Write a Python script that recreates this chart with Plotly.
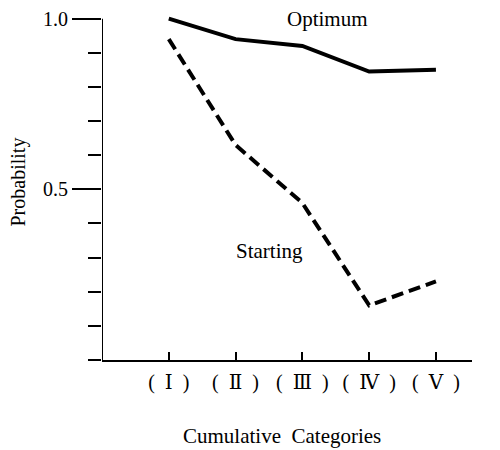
import plotly.graph_objects as go

# Category positions and labels along the horizontal axis
categories = [1, 2, 3, 4, 5]
category_labels = ["(\u2002\u2160\u2002)", "(\u2002\u2161\u2002)", "(\u2002\u2162\u2002)",
                   "(\u2002\u2163\u2002)", "(\u2002\u2164\u2002)"]

# Probability for each cumulative category
optimum = [1.0, 0.94, 0.92, 0.845, 0.85]
starting = [0.94, 0.63, 0.46, 0.16, 0.23]

y_tick_vals = [0.5, 1.0]
y_tick_text = ["0.5", "1.0"]

serif = "Liberation Serif, DejaVu Serif, Times New Roman, serif"

fig = go.Figure()

fig.add_trace(go.Scatter(
    x=categories, y=optimum, mode="lines", name="Optimum",
    line=dict(color="black", width=4),
))
fig.add_trace(go.Scatter(
    x=categories, y=starting, mode="lines", name="Starting",
    line=dict(color="black", width=4, dash="12px,6px"),
))

# vertical axis line running from 0 to 1.0
fig.add_shape(type="line", xref="x", yref="y", x0=0, x1=0, y0=0, y1=1.0,
              line=dict(color="black", width=2), layer="above")

fig.add_annotation(x=3.37, y=1.0, text="Optimum", showarrow=False,
                   font=dict(family=serif, size=21, color="black"))
fig.add_annotation(x=2.51, y=0.32, text="Starting", showarrow=False,
                   font=dict(family=serif, size=21, color="black"))

# axis titles
fig.add_annotation(xref="paper", yref="paper", x=0.5, y=0, xshift=-5, yshift=-76,
                   xanchor="center", yanchor="middle",
                   text="Cumulative\u2002Categories", showarrow=False,
                   font=dict(family=serif, size=21, color="black"))
fig.add_annotation(xref="paper", yref="paper", x=0, y=0.5, xshift=-84, yshift=0,
                   xanchor="center", yanchor="middle",
                   text="Probability", textangle=-90, showarrow=False,
                   font=dict(family=serif, size=20, color="black"))

fig.update_layout(
    width=500, height=450,
    margin=dict(l=102, r=28, t=5, b=90),
    paper_bgcolor="white", plot_bgcolor="white",
    showlegend=False,
    font=dict(family=serif, size=20, color="black"),
    xaxis=dict(
        range=[0, 5.54], showgrid=False, zeroline=False,
        showline=True, linecolor="black", linewidth=2,
        ticks="inside", ticklen=8, tickwidth=2, tickcolor="black",
        tickvals=categories, ticktext=category_labels, ticklabelstandoff=3,
        tickfont=dict(family=serif, size=20, color="black"),
    ),
    yaxis=dict(
        range=[0, 1.04], showgrid=False, zeroline=False, showline=False,
        ticks="outside", ticklen=29, tickwidth=2, tickcolor="black",
        tickvals=y_tick_vals, ticktext=y_tick_text,
        tickfont=dict(family=serif, size=20, color="black"),
        minor=dict(dtick=0.1, tick0=0, ticks="outside", ticklen=13,
                   tickwidth=2, tickcolor="black"),
    ),
)

fig.write_html("out.html")
